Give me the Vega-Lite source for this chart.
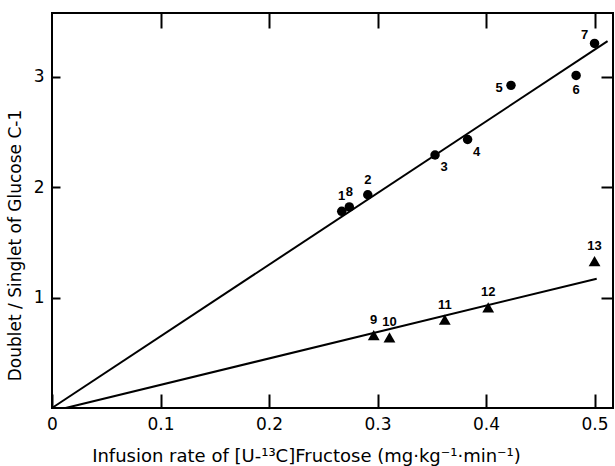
{
  "$schema": "https://vega.github.io/schema/vega-lite/v6.json",
  "width": 561,
  "height": 395,
  "autosize": {"type": "none"},
  "padding": {"left": 52, "top": 13, "right": 2, "bottom": 58},
  "background": "white",
  "config": {
    "view": {"stroke": "black", "strokeWidth": 2},
    "font": "Liberation Sans",
    "axis": {"grid": false, "domain": false, "tickColor": "black", "tickWidth": 2, "labelColor": "black", "titleColor": "black", "labelFont": "DejaVu Sans", "titleFont": "DejaVu Sans", "titleFontWeight": "normal", "labelFlush": false}
  },
  "datasets": {
    "pts": [
      {"id": "1", "group": "Controls", "x": 0.267, "y": 1.78, "side": "above"},
      {"id": "8", "group": "Controls", "x": 0.274, "y": 1.82, "side": "above"},
      {"id": "2", "group": "Controls", "x": 0.291, "y": 1.93, "side": "above"},
      {"id": "3", "group": "Controls", "x": 0.353, "y": 2.29, "side": "belowright"},
      {"id": "4", "group": "Controls", "x": 0.383, "y": 2.43, "side": "belowright"},
      {"id": "5", "group": "Controls", "x": 0.423, "y": 2.92, "side": "left"},
      {"id": "6", "group": "Controls", "x": 0.483, "y": 3.01, "side": "below"},
      {"id": "7", "group": "Controls", "x": 0.5, "y": 3.3, "side": "upperleft"},
      {"id": "9", "group": "Patients (HFI)", "x": 0.2965, "y": 0.66, "side": "above"},
      {"id": "10", "group": "Patients (HFI)", "x": 0.311, "y": 0.64, "side": "above"},
      {"id": "11", "group": "Patients (HFI)", "x": 0.362, "y": 0.8, "side": "above"},
      {"id": "12", "group": "Patients (HFI)", "x": 0.402, "y": 0.91, "side": "above"},
      {"id": "13", "group": "Patients (HFI)", "x": 0.5, "y": 1.33, "side": "above"}
    ],
    "fits": [
      {"group": "Controls", "x": 0, "y": 0},
      {"group": "Controls", "x": 0.512, "y": 3.32},
      {"group": "Patients (HFI)", "x": 0.0125, "y": 0},
      {"group": "Patients (HFI)", "x": 0.502, "y": 1.17}
    ]
  },
  "layer": [
    {
      "data": {"name": "fits"},
      "mark": {"type": "line", "color": "black", "strokeWidth": 2},
      "encoding": {
        "x": {"field": "x", "type": "quantitative", "scale": {"domain": [0, 0.517], "nice": false, "zero": false},
              "axis": {"orient": "top", "values": [0.1, 0.2, 0.3, 0.4, 0.5], "labels": false, "tickSize": -15, "title": null}},
        "y": {"field": "y", "type": "quantitative", "scale": {"domain": [0, 3.575], "nice": false, "zero": false},
              "axis": {"orient": "right", "values": [1, 2, 3], "labels": false, "tickSize": -12, "title": null}},
        "detail": {"field": "group"}
      }
    },
    {
      "data": {"name": "pts"},
      "mark": {"type": "point", "filled": true, "color": "black", "opacity": 1},
      "encoding": {
        "x": {"field": "x", "type": "quantitative",
              "axis": {"orient": "bottom", "values": [0, 0.1, 0.2, 0.3, 0.4, 0.5], "format": ".1~f", "tickSize": -14, "labelPadding": 22, "labelFontSize": 17,
                       "title": "Infusion rate of [U-¹³C]Fructose (mg·kg⁻¹·min⁻¹)", "titleFontSize": 18, "titleX": 254, "titleY": 48, "titleAlign": "center", "titleBaseline": "middle"}},
        "y": {"field": "y", "type": "quantitative",
              "axis": {"orient": "left", "values": [1, 2, 3], "format": "d", "tickSize": -8, "labelPadding": 16, "labelFontSize": 17,
                       "title": "Doublet / Singlet of Glucose C-1", "titleFontSize": 17, "titleX": -37, "titleY": 232, "titleAngle": 270, "titleAlign": "center", "titleBaseline": "middle"}},
        "shape": {"field": "group", "type": "nominal",
                  "scale": {"domain": ["Controls", "Patients (HFI)"], "range": ["circle", "triangle-up"]},
                  "legend": {"orient": "none", "legendX": 60, "legendY": 58, "title": null, "padding": 0, "clipHeight": 16, "rowPadding": 6,
                             "symbolFillColor": "black", "symbolStrokeWidth": 0, "symbolSize": 90, "labelFontSize": 15, "labelFontWeight": "bold", "labelFont": "Liberation Sans", "labelOffset": 3, "labelColor": "black"}},
        "size": {"field": "group", "type": "nominal", "scale": {"domain": ["Controls", "Patients (HFI)"], "range": [90, 140]}, "legend": null}
      }
    },
    {
      "data": {"name": "pts"},
      "transform": [{"filter": "datum.side == 'above'"}],
      "mark": {"type": "text", "font": "Liberation Sans", "fontWeight": "bold", "fontSize": 13, "color": "black", "dy": -15, "baseline": "middle"},
      "encoding": {"x": {"field": "x", "type": "quantitative", "axis": null}, "y": {"field": "y", "type": "quantitative", "axis": null}, "text": {"field": "id"}}
    },
    {
      "data": {"name": "pts"},
      "transform": [{"filter": "datum.side == 'below'"}],
      "mark": {"type": "text", "font": "Liberation Sans", "fontWeight": "bold", "fontSize": 13, "color": "black", "dy": 15, "baseline": "middle"},
      "encoding": {"x": {"field": "x", "type": "quantitative", "axis": null}, "y": {"field": "y", "type": "quantitative", "axis": null}, "text": {"field": "id"}}
    },
    {
      "data": {"name": "pts"},
      "transform": [{"filter": "datum.side == 'belowright'"}],
      "mark": {"type": "text", "font": "Liberation Sans", "fontWeight": "bold", "fontSize": 13, "color": "black", "dx": 9, "dy": 12, "baseline": "middle"},
      "encoding": {"x": {"field": "x", "type": "quantitative", "axis": null}, "y": {"field": "y", "type": "quantitative", "axis": null}, "text": {"field": "id"}}
    },
    {
      "data": {"name": "pts"},
      "transform": [{"filter": "datum.side == 'left'"}],
      "mark": {"type": "text", "font": "Liberation Sans", "fontWeight": "bold", "fontSize": 13, "color": "black", "dx": -12, "dy": 3, "baseline": "middle"},
      "encoding": {"x": {"field": "x", "type": "quantitative", "axis": null}, "y": {"field": "y", "type": "quantitative", "axis": null}, "text": {"field": "id"}}
    },
    {
      "data": {"name": "pts"},
      "transform": [{"filter": "datum.side == 'upperleft'"}],
      "mark": {"type": "text", "font": "Liberation Sans", "fontWeight": "bold", "fontSize": 13, "color": "black", "dx": -10, "dy": -8, "baseline": "middle"},
      "encoding": {"x": {"field": "x", "type": "quantitative", "axis": null}, "y": {"field": "y", "type": "quantitative", "axis": null}, "text": {"field": "id"}}
    }
  ],
  "resolve": {"axis": {"x": "independent", "y": "independent"}}
}
